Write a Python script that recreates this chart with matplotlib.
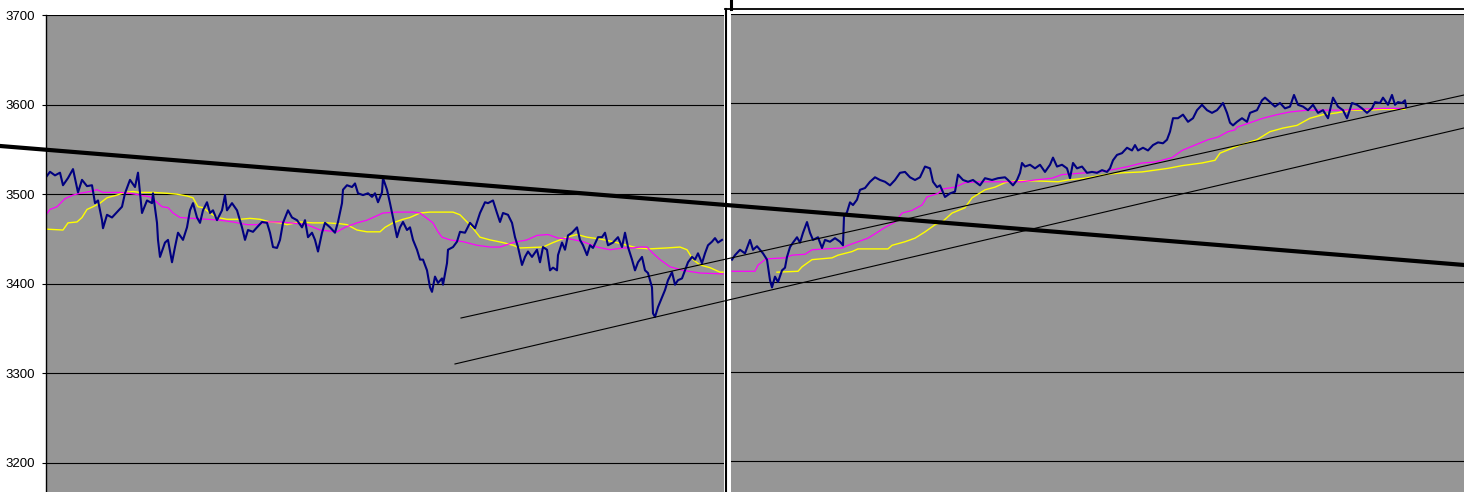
import matplotlib
matplotlib.use("Agg")
import matplotlib.pyplot as plt
from matplotlib.lines import Line2D

# ---- data (time index, price) ----
left_t = [0, 4, 9, 14, 17, 22, 27, 32, 36, 41, 46, 49, 52, 56, 57, 61, 66, 71, 76, 79, 84, 89, 92, 96,
          101, 106, 107, 111, 112, 114, 119, 122, 126, 129, 132, 137, 141, 144, 147, 151, 154, 157,
          161, 164, 167, 171, 176, 179, 181, 186, 191, 196, 199, 202, 207, 211, 216, 221, 224, 227,
          231, 234, 237, 242, 246, 251, 256, 259, 262, 266, 269, 272, 276, 279, 284, 289, 292, 296,
          297, 301, 306, 309, 312, 317, 322, 326, 329, 332, 336, 337, 341, 344, 347, 351, 354, 357,
          361, 364, 367, 371, 374, 377, 381, 384, 386, 389, 392, 396, 397, 401, 402, 407, 411, 414,
          419, 424, 429, 434, 439, 442, 447, 451, 454, 457, 462, 466, 469, 472, 476, 479, 482, 486,
          491, 494, 497, 501, 504, 507, 511, 512, 516, 519, 522, 526, 531, 534, 537, 541, 544, 547,
          552, 556, 559, 562, 567, 572, 576, 579, 582, 586, 589, 592, 596, 599, 602, 606, 607, 609,
          612, 616, 619, 622, 626, 629, 632, 636, 639, 642, 646, 649, 652, 656, 659, 662, 666, 669,
          672, 676]
left_price = [3519, 3525, 3521, 3524, 3510, 3518, 3528, 3502, 3516, 3509, 3510, 3490, 3493, 3471, 3462,
              3477, 3474, 3480, 3486, 3501, 3516, 3508, 3524, 3479, 3493, 3490, 3501, 3468, 3449, 3430,
              3446, 3449, 3424, 3441, 3457, 3449, 3463, 3482, 3490, 3474, 3468, 3482, 3491, 3479, 3482,
              3471, 3482, 3499, 3482, 3490, 3482, 3463, 3449, 3460, 3458, 3463, 3469, 3468, 3457, 3441,
              3440, 3449, 3468, 3482, 3474, 3471, 3463, 3471, 3452, 3457, 3449, 3436, 3457, 3468, 3463,
              3457, 3469, 3490, 3505, 3510, 3508, 3512, 3501, 3499, 3501, 3497, 3501, 3491, 3502, 3518,
              3505, 3490, 3474, 3452, 3463, 3469, 3460, 3463, 3449, 3438, 3427, 3427, 3415, 3396, 3391,
              3408, 3401, 3406, 3399, 3423, 3438, 3441, 3447, 3458, 3457, 3468, 3462, 3479, 3491, 3490,
              3493, 3479, 3469, 3479, 3477, 3468, 3452, 3441, 3421, 3430, 3436, 3430, 3438, 3424, 3441,
              3438, 3415, 3418, 3415, 3432, 3446, 3438, 3454, 3457, 3463, 3449, 3443, 3432, 3443, 3440,
              3452, 3452, 3457, 3443, 3446, 3452, 3441, 3457, 3441, 3427, 3415, 3424, 3430, 3415, 3412,
              3396, 3367, 3363, 3374, 3385, 3393, 3404, 3413, 3399, 3404, 3406, 3415, 3424, 3430, 3427,
              3434, 3423, 3434, 3443, 3447, 3451, 3446, 3449]

left_ma1_t = [0, 4, 11, 19, 27, 34, 44, 51, 57, 74, 84, 94, 104, 111, 116, 122, 127, 134, 147, 161, 174,
              187, 201, 211, 221, 234, 244, 261, 274, 291, 299, 311, 321, 327, 337, 351, 367, 374, 381,
              387, 392, 396, 404, 417, 431, 444, 454, 467, 481, 491, 502, 512, 524, 537, 551, 564, 577,
              587, 594, 601, 607, 614, 624, 637, 654, 677]
left_ma1 = [3477, 3483, 3486, 3495, 3499, 3501, 3503, 3505, 3502, 3502, 3501, 3499, 3497, 3491, 3486,
            3485, 3479, 3474, 3473, 3472, 3471, 3469, 3466, 3466, 3469, 3469, 3468, 3466, 3460, 3458,
            3463, 3468, 3471, 3474, 3479, 3480, 3480, 3479, 3473, 3468, 3458, 3452, 3449, 3447, 3443,
            3441, 3441, 3446, 3449, 3454, 3455, 3451, 3450, 3447, 3441, 3438, 3440, 3440, 3441, 3441,
            3434, 3427, 3419, 3415, 3412, 3411]

left_ma2_t = [0, 17, 22, 31, 36, 41, 47, 54, 61, 71, 79, 87, 94, 107, 121, 131, 141, 147, 152, 157, 164,
              171, 181, 194, 204, 214, 224, 234, 241, 254, 267, 281, 294, 301, 311, 321, 334, 339, 347,
              357, 364, 374, 384, 397, 407, 414, 421, 427, 434, 444, 457, 467, 474, 497, 507, 521, 531,
              541, 554, 567, 581, 591, 604, 621, 634, 641, 647, 654, 664, 674, 677]
left_ma2 = [3461, 3460, 3468, 3469, 3474, 3483, 3486, 3490, 3496, 3499, 3502, 3503, 3502, 3502, 3501,
            3500, 3498, 3496, 3486, 3485, 3479, 3474, 3472, 3472, 3473, 3472, 3469, 3468, 3466, 3469,
            3468, 3468, 3467, 3466, 3460, 3458, 3458, 3463, 3468, 3472, 3474, 3479, 3480, 3480, 3480,
            3477, 3469, 3462, 3452, 3449, 3446, 3443, 3440, 3441, 3446, 3452, 3455, 3452, 3450, 3447,
            3443, 3440, 3439, 3440, 3441, 3438, 3427, 3421, 3418, 3413, 3413]

right_t = [1, 4, 9, 14, 19, 22, 26, 29, 32, 36, 39, 41, 44, 47, 51, 54, 56, 59, 62, 66, 69, 72, 76, 79,
           82, 87, 91, 94, 99, 104, 109, 112, 113, 116, 119, 122, 126, 129, 134, 139, 144, 149, 154, 159,
           164, 169, 174, 179, 184, 189, 194, 199, 202, 206, 209, 214, 219, 224, 227, 232, 237, 242, 249,
           254, 261, 267, 274, 277, 282, 286, 289, 291, 294, 299, 304, 309, 314, 319, 322, 326, 331, 336,
           339, 342, 346, 351, 356, 361, 366, 371, 376, 379, 382, 386, 391, 396, 401, 404, 407, 412, 417,
           422, 427, 432, 436, 439, 442, 447, 452, 457, 462, 466, 471, 476, 481, 486, 492, 496, 499, 502,
           506, 511, 516, 519, 526, 531, 534, 539, 544, 549, 554, 559, 563, 567, 572, 577, 582, 587, 592,
           597, 602, 607, 612, 616, 621, 626, 631, 636, 641, 644, 649, 652, 657, 661, 664, 667, 671, 674,
           675]
right_price = [3425, 3430, 3436, 3432, 3447, 3436, 3440, 3436, 3432, 3425, 3402, 3394, 3406, 3400, 3413,
               3416, 3428, 3439, 3444, 3450, 3444, 3455, 3467, 3455, 3447, 3450, 3438, 3447, 3445, 3449,
               3445, 3441, 3473, 3478, 3489, 3486, 3492, 3503, 3505, 3512, 3517, 3514, 3512, 3508, 3514,
               3522, 3523, 3517, 3514, 3517, 3529, 3527, 3512, 3506, 3508, 3495, 3499, 3501, 3520, 3514,
               3512, 3514, 3508, 3516, 3514, 3516, 3517, 3514, 3508, 3514, 3522, 3533, 3529, 3531, 3527,
               3531, 3523, 3531, 3539, 3529, 3531, 3527, 3516, 3533, 3527, 3529, 3522, 3523, 3522, 3525,
               3523, 3527, 3536, 3542, 3544, 3550, 3547, 3553, 3547, 3550, 3547, 3553, 3556, 3555, 3559,
               3568, 3583, 3583, 3587, 3579, 3583, 3592, 3598, 3592, 3589, 3592, 3600, 3589, 3578, 3575,
               3579, 3583, 3579, 3589, 3592, 3603, 3606, 3601, 3596, 3600, 3594, 3596, 3609, 3598, 3596,
               3592, 3598, 3589, 3592, 3583, 3606, 3596, 3592, 3583, 3600, 3598, 3594, 3589, 3594, 3601,
               3600, 3606, 3598, 3609, 3598, 3601, 3600, 3603, 3596]

right_ma1_t = [1, 24, 27, 34, 37, 54, 61, 74, 81, 94, 111, 117, 127, 137, 147, 154, 164, 171, 181, 191,
               196, 207, 212, 224, 234, 247, 291, 304, 321, 331, 354, 367, 384, 397, 411, 424, 441, 451,
               464, 477, 487, 497, 504, 506, 519, 532, 546, 559, 576, 596, 612, 626, 652, 674]
right_ma1 = [3412, 3412, 3419, 3425, 3426, 3427, 3430, 3431, 3436, 3437, 3438, 3441, 3445, 3449, 3456,
             3461, 3467, 3477, 3480, 3486, 3495, 3499, 3504, 3506, 3511, 3512, 3512, 3514, 3516, 3520,
             3522, 3523, 3526, 3529, 3533, 3534, 3539, 3547, 3553, 3559, 3562, 3568, 3570, 3573, 3578,
             3583, 3587, 3590, 3592, 3592, 3592, 3593, 3594, 3594]

right_ma2_t = [46, 67, 71, 81, 101, 107, 121, 127, 157, 161, 174, 184, 194, 204, 211, 221, 234, 241, 254,
               264, 274, 284, 304, 327, 337, 354, 374, 391, 411, 437, 451, 471, 484, 489, 509, 526, 539,
               552, 566, 579, 592, 606, 619, 639, 652, 674]
right_ma2 = [3411, 3412, 3417, 3425, 3427, 3430, 3434, 3437, 3437, 3441, 3445, 3449, 3456, 3464, 3467,
             3477, 3483, 3494, 3503, 3506, 3511, 3513, 3513, 3512, 3514, 3516, 3520, 3522, 3523, 3527,
             3530, 3533, 3536, 3544, 3553, 3559, 3568, 3572, 3575, 3583, 3587, 3589, 3592, 3592, 3593,
             3593]

# trend lines, in left-panel time/price terms (they run across both panels)
trend_thick_t = [-46, 1418]
trend_thick = [3553.8, 3421.0]
trend_up1_t = [415, 1418]
trend_up1 = [3361.8, 3610.7]
trend_up2_t = [409, 1418]
trend_up2 = [3310.5, 3573.9]

yticks = [3200, 3300, 3400, 3500, 3600, 3700]

BG = "#969696"
W, H = 1464, 492

fig = plt.figure(figsize=(W / 100, H / 100), dpi=100)
fig.patch.set_facecolor("white")

# left chart
axL = fig.add_axes([46 / W, 0, 678 / W, 477 / H])
axL.set_facecolor(BG)
axL.set_xlim(0, 678)
axL.set_ylim(3167.6, 3700)
axL.set_yticks(yticks)
axL.set_yticklabels([str(v) for v in yticks], fontsize=9.5, family="Liberation Sans")
axL.tick_params(axis="y", direction="out", length=3, width=0.8, pad=5, colors="black")
axL.set_xticks([])
for s in ["top", "right", "bottom"]:
    axL.spines[s].set_visible(False)
axL.spines["left"].set_linewidth(1.0)
axL.yaxis.grid(True, color="black", lw=0.8)
axL.set_axisbelow(True)

axL.plot(left_ma2_t, left_ma2, color="#ffff00", lw=1.0)
axL.plot(left_ma1_t, left_ma1, color="#ff00ff", lw=0.9)
axL.plot(left_t, left_price, color="#000080", lw=1.5)

# right chart
axR = fig.add_axes([731 / W, 0, 733 / W, 478.5 / H])
axR.set_facecolor(BG)
axR.set_xlim(0, 733)
axR.set_ylim(3165.4, 3700)
axR.set_yticks(yticks)
axR.set_xticks([])
axR.tick_params(axis="y", length=0, labelleft=False)
for s in axR.spines.values():
    s.set_visible(False)
axR.yaxis.grid(True, color="black", lw=0.8)
axR.set_axisbelow(True)

axR.plot(right_ma2_t, right_ma2, color="#ffff00", lw=1.0)
axR.plot(right_ma1_t, right_ma1, color="#ff00ff", lw=0.9)
axR.plot(right_t, right_price, color="#000080", lw=1.5)

# frame of the second chart
fig.add_artist(Line2D([725.5 / W, 725.5 / W], [0, 1 - 8.5 / H], transform=fig.transFigure,
                      color="black", lw=1.5))
fig.add_artist(Line2D([725 / W, 1], [1 - 8.5 / H, 1 - 8.5 / H], transform=fig.transFigure,
                      color="black", lw=1.3))
fig.add_artist(Line2D([730.5 / W, 730.5 / W], [1 - 8.5 / H, 1], transform=fig.transFigure,
                      color="black", lw=2.2))

# trend lines drawn over both charts
for tt, vv, lw in [(trend_thick_t, trend_thick, 3.0),
                   (trend_up1_t, trend_up1, 0.8),
                   (trend_up2_t, trend_up2, 0.8)]:
    ln = Line2D(tt, vv, transform=axL.transData, color="black", lw=lw, clip_on=False)
    fig.add_artist(ln)

fig.savefig("out.png", dpi=100)
